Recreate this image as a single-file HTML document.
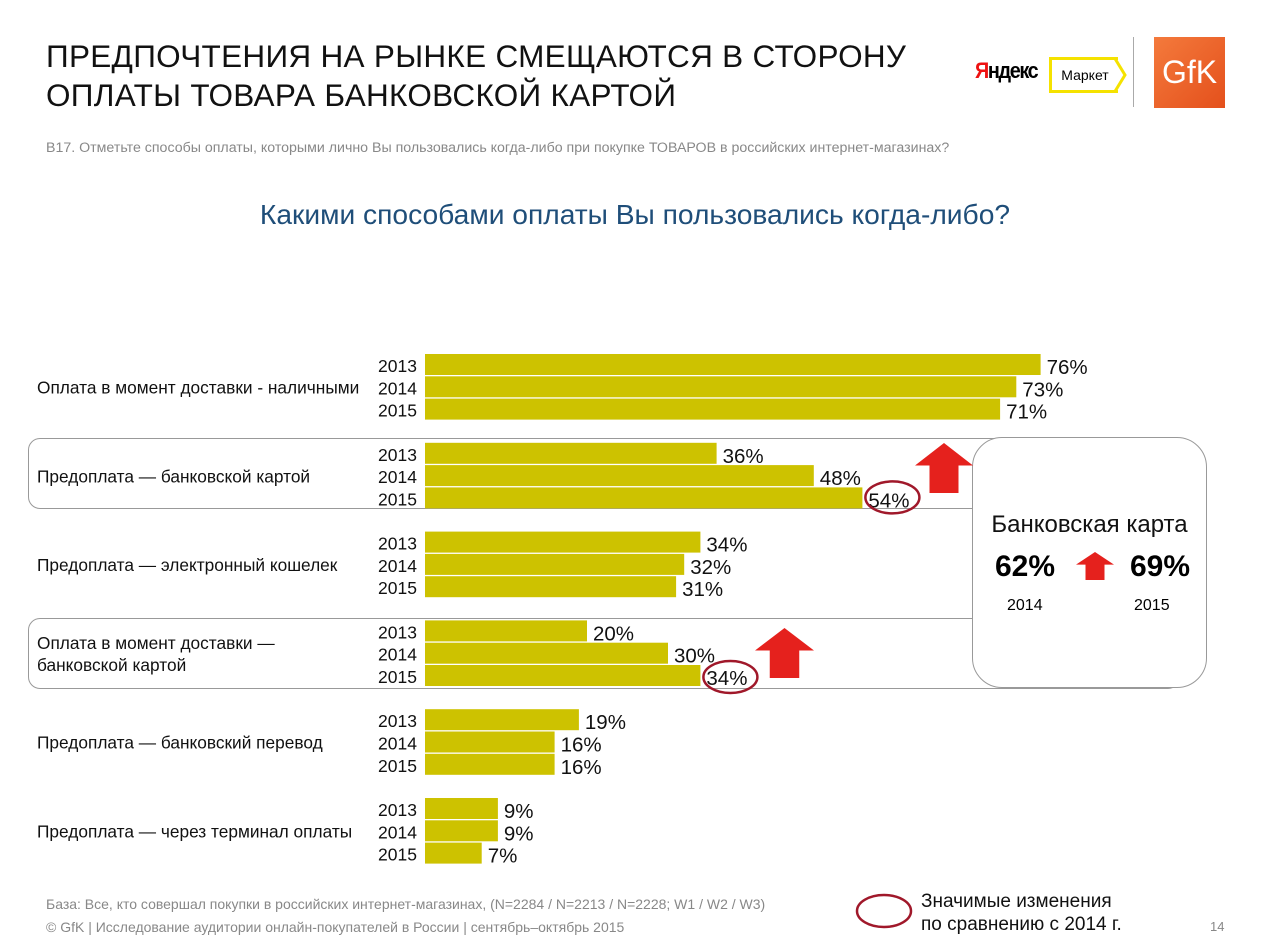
<!DOCTYPE html>
<html><head><meta charset="utf-8">
<style>
body{margin:0;width:1267px;height:951px;background:#fff;font-family:"Liberation Sans",sans-serif;position:relative;overflow:hidden}
.abs{position:absolute;white-space:nowrap}
</style></head><body>
<div class="abs" style="left:46px;top:37px;font-size:31.5px;letter-spacing:0.3px;line-height:39px;color:#111">ПРЕДПОЧТЕНИЯ НА РЫНКЕ СМЕЩАЮТСЯ В СТОРОНУ<br>ОПЛАТЫ ТОВАРА БАНКОВСКОЙ КАРТОЙ</div>
<div class="abs" style="left:975px;top:58px;font-size:22px;font-weight:bold;letter-spacing:-1.5px;transform:scaleX(0.9);transform-origin:left"><span style="color:#e11">Я</span>ндекс</div>
<div class="abs" style="left:1049px;top:57px;width:66px;height:30px;border:3px solid #f5e200;border-right:none;font-size:14px;line-height:30px;text-align:center">Маркет</div>
<svg class="abs" style="left:1114px;top:57px" width="14" height="36"><polyline points="0,0 11,18 0,36" fill="none" stroke="#f5e200" stroke-width="3"/></svg>
<div class="abs" style="left:1133px;top:37px;width:1px;height:70px;background:#aaa"></div>
<div class="abs" style="left:1154px;top:37px;width:71px;height:71px;background:linear-gradient(135deg,#f47a3c,#e4501c);color:#fff;font-size:32px;line-height:71px;text-align:center">GfK</div>
<div class="abs" style="left:46px;top:140px;font-size:14.2px;color:#888">В17. Отметьте способы оплаты, которыми лично Вы пользовались когда-либо при покупке ТОВАРОВ в российских интернет-магазинах?</div>
<div class="abs" style="left:0;width:1270px;text-align:center;top:198px;font-size:28.2px;color:#1f4e79">Какими способами оплаты Вы пользовались когда-либо?</div>

<div class="abs" style="left:28px;top:438px;width:1150px;height:69px;border:1px solid #999;border-radius:12px"></div>
<div class="abs" style="left:28px;top:618px;width:1150px;height:69px;border:1px solid #999;border-radius:12px"></div>
<div class="abs" style="left:972px;top:437px;width:233px;height:249px;border:1px solid #999;border-radius:30px;background:#fff"></div>
<div class="abs" style="left:972px;top:511px;width:235px;text-align:center;font-size:24px;color:#111">Банковская карта</div>
<div class="abs" style="left:995px;top:550px;font-size:30px;font-weight:bold">62%</div>
<div class="abs" style="left:1130px;top:550px;font-size:30px;font-weight:bold">69%</div>
<div class="abs" style="left:1007px;top:597px;font-size:16px">2014</div>
<div class="abs" style="left:1134px;top:597px;font-size:16px">2015</div>

<svg id="chart" class="abs" style="left:0;top:0" width="1267" height="951"></svg>

<div class="abs" style="left:46px;top:896px;font-size:14px;color:#888">База: Все, кто совершал покупки в российских интернет-магазинах, (N=2284 / N=2213 / N=2228; W1 / W2 / W3)</div>
<div class="abs" style="left:46px;top:919px;font-size:14px;color:#888">© GfK | Исследование аудитории онлайн-покупателей в России | сентябрь–октябрь 2015</div>
<div class="abs" style="left:921px;top:890px;font-size:19px;line-height:23px;color:#111">Значимые изменения<br>по сравнению с 2014 г.</div>
<div class="abs" style="left:1210px;top:919px;font-size:13px;color:#888">14</div>
<script>
const categories=[["Оплата в момент доставки - наличными"],["Предоплата — банковской картой"],["Предоплата — электронный кошелек"],["Оплата в момент доставки —","банковской картой"],["Предоплата — банковский перевод"],["Предоплата — через терминал оплаты"]];
const years=["2013","2014","2015"];
const values2013=[76,36,34,20,19,9];
const values2014=[73,48,32,30,16,9];
const values2015=[71,54,31,34,16,7];
const NS="http://www.w3.org/2000/svg";
const svg=document.getElementById('chart');
const x0=425,k=8.1,top0=354,gp=88.8,rp=22.3,bh=21;
const xs=v=>x0+v*k;
function mk(t,a){const e=document.createElementNS(NS,t);for(const n in a)e.setAttribute(n,a[n]);svg.appendChild(e);return e;}
const series=[values2013,values2014,values2015];
categories.forEach((c,i)=>{
  const gy=top0+i*gp;
  const lab=mk('text',{x:37,y:gy+rp*1.5+6-(c.length-1)*11,'font-size':17.3,fill:'#111'});
  
  
  c.forEach((l,j)=>{const ts=document.createElementNS(NS,'tspan');ts.setAttribute('x',37);ts.setAttribute('dy',j?22:0);ts.textContent=l;lab.appendChild(ts);});
  series.forEach((s,j)=>{
    const y=gy+j*rp;
    const yt=mk('text',{x:378,y:y+bh-3,'font-size':17.5,fill:'#111'});
    
    
    yt.textContent=years[j];
    const r=mk('rect',{x:x0,y:y,width:xs(s[i])-x0,height:bh,fill:'#cdc200'});
    
    
    const vt=mk('text',{x:xs(s[i])+6,y:y+bh-1,'font-size':20.5,fill:'#111'});
    
    
    vt.textContent=s[i]+'%';
  });
});
function ell(cx,cy){const e=mk('ellipse',{cx:cx,cy:cy,rx:27,ry:16,fill:'none',stroke:'#a0182a','stroke-width':2.5});}
ell(xs(values2015[1])+30,top0+gp+2*rp+10);
ell(xs(values2015[3])+30,top0+3*gp+2*rp+12);
ell(884,911);
function arrow(x,y,w,h){const e=mk('polygon',{points:`${x},${y+h*0.45} ${x+w/2},${y} ${x+w},${y+h*0.45} ${x+w*0.75},${y+h*0.45} ${x+w*0.75},${y+h} ${x+w*0.25},${y+h} ${x+w*0.25},${y+h*0.45}`,fill:'#e5211d'});}
arrow(915,443,58,50);arrow(755,628,59,50);arrow(1076,552,38,28);
</script>
</body></html>
